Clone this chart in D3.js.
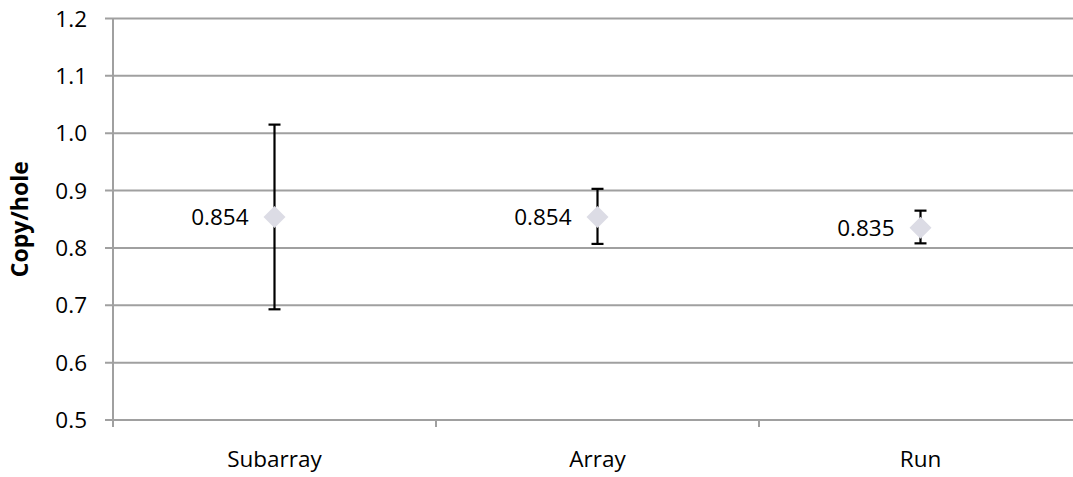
<!DOCTYPE html>
<html>
<head>
<meta charset="utf-8">
<script src="https://cdn.jsdelivr.net/npm/d3@7"></script>
<style>
  body { margin: 0; background: #fff; }
  text { font-family: "Open Sans", "Liberation Sans", sans-serif; }
</style>
</head>
<body>
<svg id="viz" width="1073" height="477"></svg>
<script>
const categories = ["Subarray", "Array", "Run"];
const means = [0.854, 0.854, 0.835];
const upper = [1.015, 0.903, 0.865];
const lower = [0.693, 0.807, 0.808];
const yTicks = [0.5, 0.6, 0.7, 0.8, 0.9, 1.0, 1.1, 1.2];

const svg = d3.select("#viz");
const margin = { left: 113, top: 18.5, bottom: 420 };

const x = d3.scaleBand()
  .domain(categories)
  .range([margin.left, margin.left + 3 * 323]);

const y = d3.scaleLinear()
  .domain([0.5, 1.2])
  .range([margin.bottom, margin.top]);

const grey = "#a0a0a0";

// gridlines
svg.append("g")
  .selectAll("line")
  .data(yTicks)
  .enter().append("line")
  .attr("x1", margin.left - 8)
  .attr("x2", x.range()[1])
  .attr("y1", d => y(d))
  .attr("y2", d => y(d))
  .attr("stroke", grey)
  .attr("stroke-width", 2);

// y axis line
svg.append("line")
  .attr("x1", margin.left).attr("x2", margin.left)
  .attr("y1", y(1.2)).attr("y2", y(0.5) + 7)
  .attr("stroke", grey)
  .attr("stroke-width", 2);

// category ticks
svg.append("g")
  .selectAll("line")
  .data(categories.slice(1).concat(["__end"]))
  .enter().append("line")
  .attr("x1", (d, i) => x.range()[0] + (i + 1) * x.step())
  .attr("x2", (d, i) => x.range()[0] + (i + 1) * x.step())
  .attr("y1", y(0.5))
  .attr("y2", y(0.5) + 7)
  .attr("stroke", grey)
  .attr("stroke-width", 2);

// y tick labels
svg.append("g")
  .selectAll("text")
  .data(yTicks)
  .enter().append("text")
  .attr("x", 87)
  .attr("y", d => y(d))
  .attr("dy", "0.36em")
  .attr("text-anchor", "end")
  .style("font-size", "22.5px")
  .attr("fill", "#000")
  .text(d => d.toFixed(1));

// category labels
svg.append("g")
  .selectAll("text")
  .data(categories)
  .enter().append("text")
  .attr("x", d => x(d) + x.bandwidth() / 2)
  .attr("y", 467)
  .attr("text-anchor", "middle")
  .style("font-size", "22.5px")
  .text(d => d);

// axis title
svg.append("text")
  .attr("transform", `translate(28,${(y(0.5) + y(1.2)) / 2}) rotate(-90)`)
  .attr("text-anchor", "middle")
  .style("font-size", "23px")
  .style("font-weight", "bold")
  .text("Copy/hole");

const cx = d => x(d) + x.bandwidth() / 2;

// error bars
const eb = svg.append("g")
  .selectAll("g")
  .data(categories)
  .enter().append("g")
  .attr("stroke", "#000")
  .attr("stroke-width", 2.2);

eb.append("line")
  .attr("x1", d => cx(d)).attr("x2", d => cx(d))
  .attr("y1", (d, i) => y(upper[i]))
  .attr("y2", (d, i) => y(lower[i]));
eb.append("line")
  .attr("x1", d => cx(d) - 6).attr("x2", d => cx(d) + 6)
  .attr("y1", (d, i) => y(upper[i]))
  .attr("y2", (d, i) => y(upper[i]));
eb.append("line")
  .attr("x1", d => cx(d) - 6).attr("x2", d => cx(d) + 6)
  .attr("y1", (d, i) => y(lower[i]))
  .attr("y2", (d, i) => y(lower[i]));

// diamond markers
svg.append("g")
  .selectAll("path")
  .data(categories)
  .enter().append("path")
  .attr("transform", (d, i) => `translate(${cx(d)},${y(means[i])})`)
  .attr("d", "M0,-11L11,0L0,11L-11,0Z")
  .attr("fill", "#dcdce5");

// data labels
svg.append("g")
  .selectAll("text")
  .data(categories)
  .enter().append("text")
  .attr("x", d => cx(d) - 26)
  .attr("y", (d, i) => y(means[i]))
  .attr("dy", "0.36em")
  .attr("text-anchor", "end")
  .style("font-size", "22.5px")
  .text((d, i) => means[i].toFixed(3));
</script>
</body>
</html>
